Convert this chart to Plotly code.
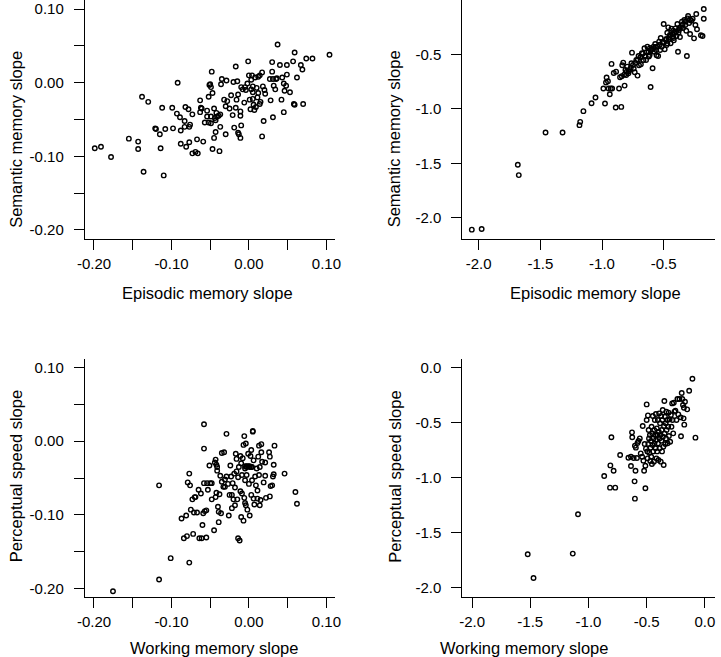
import plotly.graph_objects as go

# ---------------- data ----------------
# Top-left: Episodic memory slope (x) vs Semantic memory slope (y)
top_left_points = [
    (-0.199, -0.089), (-0.191, -0.087), (-0.178, -0.101), (-0.155, -0.076), (-0.143, -0.080),
    (-0.143, -0.090), (-0.138, -0.019), (-0.136, -0.121), (-0.130, -0.026), (-0.121, -0.062),
    (-0.120, -0.063), (-0.115, -0.070), (-0.114, -0.089), (-0.112, -0.034), (-0.110, -0.126),
    (-0.108, -0.063), (-0.099, -0.034), (-0.098, -0.062), (-0.092, 0.000), (-0.093, -0.042),
    (-0.089, -0.047), (-0.088, -0.065), (-0.088, -0.083), (-0.083, -0.052), (-0.082, -0.033),
    (-0.083, -0.060), (-0.081, -0.087), (-0.078, -0.036), (-0.077, -0.060), (-0.077, -0.081),
    (-0.076, -0.057), (-0.073, -0.043), (-0.073, -0.096), (-0.069, -0.094), (-0.067, -0.077),
    (-0.066, -0.096), (-0.063, -0.024), (-0.063, -0.040), (-0.062, -0.034), (-0.061, -0.035),
    (-0.059, -0.080), (-0.057, -0.054), (-0.054, -0.038), (-0.054, -0.046), (-0.052, -0.019),
    (-0.052, -0.054), (-0.051, -0.003), (-0.049, -0.046), (-0.049, -0.055), (-0.048, 0.015),
    (-0.049, -0.006), (-0.047, -0.014), (-0.047, -0.090), (-0.045, -0.075), (-0.045, -0.035),
    (-0.044, -0.048), (-0.043, -0.067), (-0.042, -0.041), (-0.041, -0.046), (-0.038, -0.093),
    (-0.037, -0.043), (-0.037, -0.060), (-0.036, -0.002), (-0.035, 0.005), (-0.032, -0.023),
    (-0.030, -0.070), (-0.030, -0.032), (-0.029, 0.003), (-0.028, -0.025), (-0.025, -0.035),
    (-0.023, -0.017), (-0.021, -0.044), (-0.020, 0.001), (-0.017, 0.022), (-0.019, -0.061),
    (-0.017, -0.034), (-0.016, -0.023), (-0.015, 0.002), (-0.014, -0.068), (-0.014, -0.016),
    (-0.013, -0.070), (-0.011, -0.075), (-0.011, -0.045), (-0.011, -0.039), (-0.010, -0.058),
    (-0.010, -0.006), (-0.008, -0.009), (-0.005, -0.006), (-0.004, -0.010), (-0.002, -0.001),
    (-0.001, 0.029), (0.000, 0.010), (0.001, -0.023), (0.002, -0.036), (0.003, -0.009),
    (0.003, 0.004), (0.004, 0.010), (0.005, -0.005), (0.005, -0.013), (0.005, -0.022),
    (0.006, -0.030), (0.007, -0.037), (0.008, 0.007), (0.010, -0.007), (0.011, -0.020),
    (0.012, 0.008), (0.012, -0.014), (0.014, 0.010), (0.014, -0.029), (0.015, -0.026),
    (0.017, -0.073), (0.017, 0.014), (0.018, -0.005), (0.019, -0.052), (0.020, -0.010),
    (0.021, -0.015), (0.027, 0.005), (0.028, -0.024), (0.030, 0.015), (0.030, 0.028),
    (0.031, 0.005), (0.031, -0.047), (0.032, -0.004), (0.034, -0.009), (0.035, 0.005),
    (0.036, 0.006), (0.037, 0.052), (0.040, 0.024), (0.042, -0.023), (0.043, 0.007),
    (0.045, -0.001), (0.046, -0.011), (0.045, -0.040), (0.048, -0.004), (0.049, 0.011),
    (0.049, 0.024), (0.053, -0.013), (0.057, 0.029), (0.058, -0.029), (0.059, 0.041),
    (0.059, -0.030), (0.062, 0.007), (0.067, 0.024), (0.069, 0.018), (0.070, -0.029),
    (0.074, 0.033), (0.082, 0.033), (0.104, 0.038),
    (-0.050, -0.002), (-0.043, -0.051), (-0.039, -0.045), (-0.006, -0.027), (0.009, -0.033),
]

# Top-right: Episodic memory slope (x) vs Semantic memory slope (y)
top_right_points = [
    (-2.056, -2.107), (-1.976, -2.101), (-1.683, -1.512), (-1.675, -1.607), (-1.458, -1.216),
    (-1.320, -1.216), (-1.183, -1.149), (-1.177, -1.119), (-1.151, -1.021), (-1.085, -0.948),
    (-1.053, -0.896), (-0.989, -0.814), (-0.976, -0.951), (-0.968, -0.759), (-0.963, -0.713),
    (-0.952, -0.747), (-0.947, -0.814), (-0.937, -0.866), (-0.929, -0.814), (-0.923, -0.588),
    (-0.918, -0.814), (-0.905, -0.671), (-0.889, -0.988), (-0.886, -0.659), (-0.862, -0.814),
    (-0.854, -0.710), (-0.844, -0.982), (-0.836, -0.601), (-0.820, -0.686), (-0.817, -0.787),
    (-0.828, -0.576), (-0.810, -0.643), (-0.796, -0.613), (-0.786, -0.674), (-0.778, -0.643),
    (-0.762, -0.582), (-0.757, -0.485), (-0.743, -0.631), (-0.735, -0.665), (-0.722, -0.552),
    (-0.712, -0.695), (-0.704, -0.515), (-0.690, -0.527), (-0.685, -0.591), (-0.677, -0.491),
    (-0.664, -0.552), (-0.656, -0.445), (-0.651, -0.515), (-0.643, -0.552), (-0.632, -0.430),
    (-0.622, -0.476), (-0.614, -0.506), (-0.606, -0.799), (-0.601, -0.461), (-0.590, -0.628),
    (-0.582, -0.430), (-0.577, -0.476), (-0.569, -0.405), (-0.558, -0.509), (-0.550, -0.427),
    (-0.545, -0.515), (-0.537, -0.384), (-0.529, -0.461), (-0.524, -0.351), (-0.516, -0.430),
    (-0.508, -0.387), (-0.500, -0.223), (-0.492, -0.454), (-0.484, -0.369), (-0.476, -0.415),
    (-0.471, -0.302), (-0.463, -0.253), (-0.458, -0.360), (-0.450, -0.323), (-0.444, -0.399),
    (-0.437, -0.265), (-0.431, -0.342), (-0.423, -0.284), (-0.418, -0.372), (-0.410, -0.305),
    (-0.405, -0.262), (-0.397, -0.332), (-0.389, -0.223), (-0.384, -0.476), (-0.376, -0.277),
    (-0.368, -0.342), (-0.360, -0.253), (-0.352, -0.201), (-0.344, -0.259), (-0.333, -0.186),
    (-0.325, -0.232), (-0.317, -0.284), (-0.312, -0.515), (-0.307, -0.171), (-0.302, -0.149),
    (-0.294, -0.213), (-0.286, -0.314), (-0.275, -0.192), (-0.265, -0.174), (-0.254, -0.354),
    (-0.243, -0.232), (-0.236, -0.131), (-0.230, -0.271), (-0.198, -0.326), (-0.185, -0.332),
    (-0.175, -0.085), (-0.175, -0.174),
    (-0.804, -0.689), (-0.783, -0.655), (-0.767, -0.625), (-0.749, -0.598), (-0.730, -0.579),
    (-0.709, -0.549), (-0.683, -0.524), (-0.669, -0.494), (-0.638, -0.482), (-0.611, -0.442),
    (-0.593, -0.451), (-0.563, -0.433), (-0.532, -0.412), (-0.497, -0.390), (-0.479, -0.360),
    (-0.452, -0.342), (-0.426, -0.314), (-0.399, -0.290), (-0.373, -0.259), (-0.347, -0.229),
    (-0.320, -0.199), (-0.286, -0.183), (-0.840, -0.700), (-0.800, -0.660), (-0.700, -0.600),
    (-0.620, -0.520), (-0.560, -0.460), (-0.470, -0.400), (-0.420, -0.350), (-0.380, -0.300),
]

# Bottom-left: Working memory slope (x) vs Perceptual speed slope (y)
bottom_left_points = [
    (-0.1755, -0.204), (-0.116, -0.188), (-0.116, -0.060), (-0.101, -0.159), (-0.087, -0.105),
    (-0.084, -0.132), (-0.080, -0.129), (-0.081, -0.101), (-0.079, -0.056), (-0.077, -0.044),
    (-0.076, -0.060), (-0.077, -0.165), (-0.075, -0.093), (-0.073, -0.079), (-0.072, -0.126),
    (-0.071, -0.097), (-0.070, -0.076), (-0.069, -0.076), (-0.067, -0.097), (-0.065, -0.066),
    (-0.064, -0.132), (-0.062, -0.071), (-0.061, -0.132), (-0.060, -0.114), (-0.059, -0.098),
    (-0.058, -0.010), (-0.058, 0.023), (-0.058, -0.057), (-0.057, -0.095), (-0.055, -0.094),
    (-0.055, -0.131), (-0.054, -0.057), (-0.053, -0.066), (-0.051, -0.033), (-0.050, -0.057),
    (-0.048, -0.057), (-0.048, -0.079), (-0.045, -0.121), (-0.044, -0.029), (-0.043, -0.025),
    (-0.043, -0.076), (-0.042, -0.070), (-0.042, -0.032), (-0.041, -0.040), (-0.041, -0.035),
    (-0.040, -0.089), (-0.039, -0.110), (-0.039, -0.096), (-0.038, -0.072), (-0.037, -0.047),
    (-0.036, -0.098), (-0.035, -0.016), (-0.035, -0.055), (-0.033, -0.062), (-0.032, -0.015),
    (-0.031, -0.052), (-0.031, -0.062), (-0.029, 0.010), (-0.029, -0.048), (-0.027, -0.058),
    (-0.026, -0.101), (-0.025, -0.073), (-0.024, -0.033), (-0.023, -0.048), (-0.022, -0.073),
    (-0.022, -0.091), (-0.021, -0.057), (-0.020, -0.079), (-0.019, -0.044), (-0.018, -0.087),
    (-0.018, -0.063), (-0.017, -0.017), (-0.016, -0.024), (-0.016, -0.041), (-0.015, -0.079),
    (-0.014, -0.132), (-0.014, -0.049), (-0.013, -0.035), (-0.012, -0.135), (-0.011, -0.068),
    (-0.011, -0.020), (-0.010, -0.103), (-0.010, -0.030), (-0.009, -0.071), (-0.009, -0.046),
    (-0.008, -0.023), (-0.007, -0.005), (-0.007, -0.108), (-0.006, 0.007), (-0.006, -0.077),
    (-0.005, -0.053), (-0.005, -0.037), (-0.005, -0.084), (-0.004, -0.003), (-0.004, -0.087),
    (-0.003, -0.034), (-0.003, -0.046), (-0.002, -0.093), (-0.001, -0.017), (0.000, -0.058),
    (0.001, -0.035), (0.001, -0.101), (0.002, -0.020), (0.003, -0.073), (0.003, -0.012),
    (0.004, -0.035), (0.004, -0.053), (0.005, 0.013), (0.005, 0.014), (0.006, -0.078),
    (0.006, -0.026), (0.007, -0.086), (0.008, -0.048), (0.009, -0.060), (0.010, -0.037),
    (0.011, -0.078), (0.011, -0.067), (0.012, -0.021), (0.013, -0.046), (0.013, -0.006),
    (0.014, -0.087), (0.014, -0.035), (0.015, -0.080), (0.016, -0.004), (0.016, -0.015),
    (0.017, -0.028), (0.019, -0.056), (0.021, -0.047), (0.021, -0.029), (0.022, -0.077),
    (0.026, -0.015), (0.027, -0.075), (0.027, -0.021), (0.028, -0.061), (0.030, -0.060),
    (0.031, -0.048), (0.032, -0.032), (0.032, -0.045), (0.033, -0.006), (0.046, -0.044),
    (0.060, -0.069), (0.062, -0.085),
    (-0.005, -0.034), (-0.003, -0.035), (-0.001, -0.034), (0.001, -0.034), (0.003, -0.035),
]

# Bottom-right: Working memory slope (x) vs Perceptual speed slope (y)
bottom_right_points = [
    (-1.522, -1.694), (-1.472, -1.909), (-1.135, -1.688), (-1.090, -1.331), (-0.865, -0.983),
    (-0.812, -0.887), (-0.803, -0.632), (-0.815, -1.089), (-0.784, -0.935), (-0.770, -1.089),
    (-0.728, -0.793), (-0.657, -0.817), (-0.635, -0.893), (-0.635, -0.808), (-0.626, -0.587),
    (-0.624, -0.632), (-0.612, -0.820), (-0.604, -1.032), (-0.601, -1.189), (-0.601, -0.708),
    (-0.596, -0.935), (-0.593, -0.726), (-0.584, -0.820), (-0.579, -0.684), (-0.570, -0.666),
    (-0.559, -0.642), (-0.551, -0.778), (-0.539, -0.808), (-0.534, -0.530), (-0.528, -0.844),
    (-0.522, -0.935), (-0.517, -0.693), (-0.511, -1.095), (-0.511, -0.890), (-0.506, -0.735),
    (-0.500, -0.333), (-0.500, -0.475), (-0.494, -0.760), (-0.492, -0.823), (-0.489, -0.433),
    (-0.486, -0.693), (-0.483, -0.566), (-0.480, -0.642), (-0.478, -0.772), (-0.472, -0.611),
    (-0.469, -0.847), (-0.466, -0.726), (-0.463, -0.666), (-0.461, -0.808), (-0.458, -0.536),
    (-0.455, -0.874), (-0.452, -0.596), (-0.449, -0.702), (-0.447, -0.439), (-0.444, -0.760),
    (-0.441, -0.642), (-0.438, -0.853), (-0.435, -0.566), (-0.433, -0.687), (-0.430, -0.475),
    (-0.427, -0.611), (-0.424, -0.732), (-0.421, -0.421), (-0.419, -0.657), (-0.416, -0.823),
    (-0.413, -0.551), (-0.410, -0.760), (-0.407, -0.611), (-0.404, -0.475), (-0.402, -0.687),
    (-0.399, -0.838), (-0.396, -0.581), (-0.393, -0.415), (-0.390, -0.642), (-0.388, -0.732),
    (-0.385, -0.505), (-0.382, -0.611), (-0.379, -0.853), (-0.376, -0.439), (-0.374, -0.663),
    (-0.371, -0.566), (-0.368, -0.760), (-0.365, -0.475), (-0.362, -0.384), (-0.360, -0.627),
    (-0.357, -0.717), (-0.354, -0.884), (-0.351, -0.530), (-0.348, -0.302), (-0.346, -0.596),
    (-0.343, -0.445), (-0.340, -0.693), (-0.337, -0.505), (-0.334, -0.642), (-0.331, -0.399),
    (-0.329, -0.566), (-0.323, -0.475), (-0.320, -0.687), (-0.315, -0.536), (-0.312, -0.408),
    (-0.309, -0.620), (-0.303, -0.469), (-0.298, -0.672), (-0.292, -0.430), (-0.287, -0.536),
    (-0.281, -0.324), (-0.278, -0.475), (-0.272, -0.596), (-0.267, -0.318), (-0.261, -0.399),
    (-0.253, -0.390), (-0.244, -0.475), (-0.236, -0.284), (-0.228, -0.424), (-0.219, -0.284),
    (-0.208, -0.451), (-0.205, -0.623), (-0.199, -0.230), (-0.194, -0.284), (-0.188, -0.339),
    (-0.183, -0.460), (-0.180, -0.363), (-0.177, -0.517), (-0.171, -0.309), (-0.152, -0.378),
    (-0.135, -0.209), (-0.107, -0.100), (-0.081, -0.635),
]

panel_titles_x = ["Episodic memory slope", "Episodic memory slope",
                  "Working memory slope", "Working memory slope"]
panel_titles_y = ["Semantic memory slope", "Semantic memory slope",
                  "Perceptual speed slope", "Perceptual speed slope"]

small_ticks = [-0.20, -0.15, -0.10, -0.05, 0.00, 0.05, 0.10]
small_labels = ["-0.20", "", "-0.10", "", "0.00", "", "0.10"]
tr_ticks = [-2.0, -1.5, -1.0, -0.5]
tr_labels = ["-2.0", "-1.5", "-1.0", "-0.5"]
br_ticks = [-2.0, -1.5, -1.0, -0.5, 0.0]
br_labels = ["-2.0", "-1.5", "-1.0", "-0.5", "0.0"]

# ---------------- figure ----------------
W, H = 721, 657
FONT = "Liberation Sans, Arial, sans-serif"

def fx(px):
    return px / W

def fy(py):
    return 1 - py / H

fig = go.Figure()

panels = [
    (top_left_points, "x", "y"),
    (top_right_points, "x2", "y2"),
    (bottom_left_points, "x3", "y3"),
    (bottom_right_points, "x4", "y4"),
]
for pts, xa, ya in panels:
    fig.add_trace(go.Scatter(
        x=[p[0] for p in pts], y=[p[1] for p in pts],
        xaxis=xa, yaxis=ya, mode="markers",
        marker=dict(symbol="circle-open", size=4.5, color="black",
                    line=dict(width=1.4, color="black")),
        showlegend=False, hoverinfo="x+y",
    ))

axis_common = dict(
    showgrid=False, zeroline=False, showline=True, linecolor="black", linewidth=1,
    ticks="outside", ticklen=10, tickwidth=1, tickcolor="black",
    tickfont=dict(family=FONT, size=15, color="black"),
    fixedrange=True,
)
XSTAND = 1
YSTAND = 7

fig.update_layout(
    width=W, height=H,
    margin=dict(l=0, r=0, t=0, b=0),
    paper_bgcolor="white", plot_bgcolor="white",
    font=dict(family=FONT, color="black"),
    xaxis=dict(domain=[fx(78.3), fx(333)], range=[-0.2119, 0.1105], anchor="y",
               tickvals=small_ticks, ticktext=small_labels, ticklabelstandoff=XSTAND, **axis_common),
    yaxis=dict(domain=[fy(239), fy(0)], range=[-0.2124, 0.1124], anchor="x",
               tickvals=small_ticks, ticktext=small_labels, ticklabelstandoff=YSTAND, **axis_common),
    xaxis2=dict(domain=[fx(463.3), 1.0], range=[-2.133, -0.084], anchor="y2",
                tickvals=tr_ticks, ticktext=tr_labels, ticklabelstandoff=XSTAND, **axis_common),
    yaxis2=dict(domain=[fy(239), fy(0)], range=[-2.1925, -0.0024], anchor="x2",
                tickvals=tr_ticks, ticktext=tr_labels, ticklabelstandoff=YSTAND, **axis_common),
    xaxis3=dict(domain=[fx(78.3), fx(333)], range=[-0.2119, 0.1105], anchor="y3",
                tickvals=small_ticks, ticktext=small_labels, ticklabelstandoff=XSTAND, **axis_common),
    yaxis3=dict(domain=[fy(597), fy(359)], range=[-0.2118, 0.1118], anchor="x3",
                tickvals=small_ticks, ticktext=small_labels, ticklabelstandoff=YSTAND, **axis_common),
    xaxis4=dict(domain=[fx(463.3), 1.0], range=[-2.084, 0.087], anchor="y4",
                tickvals=br_ticks, ticktext=br_labels, ticklabelstandoff=XSTAND, **axis_common),
    yaxis4=dict(domain=[fy(597), fy(359)], range=[-2.082, 0.079], anchor="x4",
                tickvals=br_ticks, ticktext=br_labels, ticklabelstandoff=YSTAND, **axis_common),
)

# axis titles as annotations placed in paper coordinates
xtitle_pos = [(203.8, 293), (599.5, 293), (210.5, 648), (526.3, 648)]
ytitle_pos = [(8, 139), (394, 139), (8, 476.5), (394, 476.5)]
for i in range(4):
    px, py = xtitle_pos[i]
    fig.add_annotation(text=panel_titles_x[i], x=fx(px), y=fy(py), xref="paper", yref="paper",
                       showarrow=False, xanchor="center", yanchor="middle",
                       font=dict(family=FONT, size=16.5, color="black"))
    px, py = ytitle_pos[i]
    fig.add_annotation(text=panel_titles_y[i], x=fx(px), y=fy(py), xref="paper", yref="paper",
                       showarrow=False, xanchor="center", yanchor="middle", textangle=-90,
                       font=dict(family=FONT, size=16.5, color="black"))

fig.write_html(
    "out.html",
    config={"displayModeBar": False},
    post_script="document.body.style.margin='0';document.body.style.overflow='hidden';",
)
